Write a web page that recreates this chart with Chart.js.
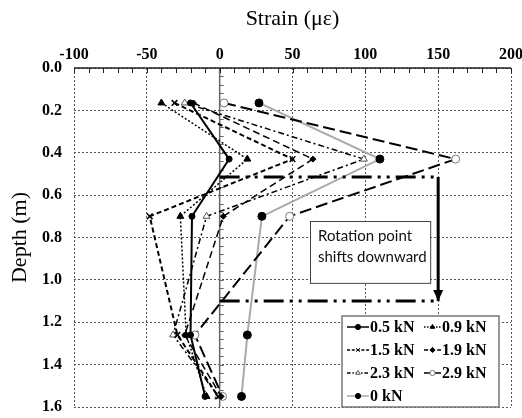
<!DOCTYPE html>
<html>
<head>
<meta charset="utf-8">
<script src="https://cdn.jsdelivr.net/npm/chart.js@4.4.1/dist/chart.umd.min.js"></script>
<style>
  html, body { margin: 0; padding: 0; background: #fff; }
  #wrap { width: 522px; height: 418px; }
</style>
</head>
<body>
<div id="wrap"><canvas id="c" width="522" height="418"></canvas></div>
<script>
// Strain (µε) vs depth (m)
const depth = [0.165, 0.43, 0.70, 1.26, 1.55];
const kn05 = [-20, 6.5, -19, -20, -10];
const kn09 = [-40, 19, -27, -23, -9];
const kn15 = [-31, 50, -48, -29, -1];
const kn19 = [-18, 64, 2.5, -24, 1];
const kn23 = [-24, 99, -9, -32, -1];
const kn29 = [3, 162, 48, -17, 2];
const kn00 = [27, 110, 29, 19, 15];
const seriesNames = ["0.5 kN", "0.9 kN", "1.5 kN", "1.9 kN", "2.3 kN", "2.9 kN", "0 kN"];

// rotation point marks (strain, depth)
const rotDepth = [0.515, 1.10];
const rotStrain = [0, 151];
const arrowStrain = 150;
const noteLines = ["Rotation point", "shifts downward"];

const SERIF = "Liberation Serif";
Chart.defaults.font.family = SERIF;
const pts = (xs) => xs.map((x, i) => ({ x, y: depth[i] }));

function series(label, xs, o) {
  return Object.assign({
    label, data: pts(xs), borderColor: "#000", backgroundColor: "#000",
    borderWidth: 1.5, pointRadius: 3.5, pointBorderWidth: 1, tension: 0,
    pointBorderColor: "#000",
  }, o);
}

const dsets = [
  series(seriesNames[0], kn05, { borderWidth: 2, pointStyle: "circle", pointRadius: 3 }),
  series(seriesNames[1], kn09, { borderDash: [2, 2], pointStyle: "triangle", pointRadius: 4 }),
  series(seriesNames[2], kn15, { borderWidth: 2, borderDash: [5, 3], pointStyle: "crossRot", pointRadius: 4, pointBorderWidth: 1.5 }),
  series(seriesNames[3], kn19, { borderDash: [7, 4], pointStyle: "rectRot", pointRadius: 3 }),
  series(seriesNames[4], kn23, { borderDash: [6, 3, 2, 3], pointStyle: "triangle", pointRadius: 4,
    backgroundColor: "#fff", pointBorderColor: "#555" }),
  series(seriesNames[5], kn29, { borderWidth: 2, borderDash: [12, 5], pointStyle: "circle", pointRadius: 4,
    backgroundColor: "#fff", pointBorderColor: "#777" }),
  series(seriesNames[6], kn00, { borderWidth: 2, borderColor: "#aaa", pointStyle: "circle", pointRadius: 4 }),
];

const rotSets = rotDepth.map((d) => ({
  label: "rot", data: rotStrain.map((x) => ({ x, y: d })), borderColor: "#000",
  borderWidth: 3, borderDash: [20, 6, 3, 6, 3, 6], pointRadius: 0, order: -1,
}));
const arrowSet = {
  label: "arrow", data: rotDepth.map((d) => ({ x: arrowStrain, y: d })), borderColor: "#000",
  borderWidth: 3, pointRadius: 0, order: -1,
};

// axis at strain 0, top axis, note box, arrowhead, legend
const extras = {
  id: "extras",
  beforeDatasetsDraw(chart) {
    const { ctx, chartArea: a, scales: { x, y } } = chart;
    const x0 = x.getPixelForValue(0);
    ctx.save();
    ctx.strokeStyle = "#666";
    ctx.lineWidth = 1.5;
    ctx.beginPath(); ctx.moveTo(x0, a.top); ctx.lineTo(x0, a.bottom); ctx.stroke();
    ctx.lineWidth = 1;
    for (let v = 0.04; v < 1.6; v += 0.04) {
      const py = Math.round(y.getPixelForValue(v)) + 0.5;
      ctx.beginPath(); ctx.moveTo(x0, py); ctx.lineTo(x0 + 4, py); ctx.stroke();
    }
    ctx.restore();
  },
  afterDatasetsDraw(chart) {
    const { ctx, chartArea: a, scales: { x, y } } = chart;
    ctx.save();
    // top axis
    ctx.strokeStyle = "#222"; ctx.lineWidth = 1.5;
    ctx.beginPath(); ctx.moveTo(a.left, a.top); ctx.lineTo(a.right, a.top); ctx.stroke();
    ctx.lineWidth = 1;
    for (let v = -100; v <= 200; v += 10) {
      const px = Math.round(x.getPixelForValue(v)) + 0.5;
      ctx.beginPath(); ctx.moveTo(px, a.top); ctx.lineTo(px, a.top + 5); ctx.stroke();
    }
    // arrowhead
    const ax = x.getPixelForValue(arrowStrain), ay = y.getPixelForValue(rotDepth[1]);
    ctx.fillStyle = "#000";
    ctx.beginPath(); ctx.moveTo(ax - 5, ay - 11); ctx.lineTo(ax + 5, ay - 11); ctx.lineTo(ax, ay); ctx.closePath(); ctx.fill();
    // note box
    const bx1 = x.getPixelForValue(62), bx2 = x.getPixelForValue(144.5);
    const by1 = y.getPixelForValue(0.72), by2 = y.getPixelForValue(1.012);
    ctx.fillStyle = "#fff"; ctx.fillRect(bx1, by1, bx2 - bx1, by2 - by1);
    ctx.strokeStyle = "#444"; ctx.lineWidth = 1;
    ctx.strokeRect(Math.round(bx1) + 0.5, Math.round(by1) + 0.5, bx2 - bx1, by2 - by1);
    ctx.fillStyle = "#111"; ctx.font = "15px Lato, 'Open Sans', sans-serif";
    ctx.textBaseline = "middle"; ctx.textAlign = "left";
    noteLines.forEach((t, i) => ctx.fillText(t, bx1 + 8, by1 + 16 + i * 21));
    // legend
    const L = { x1: 342, y1: 316, x2: 499, y2: 407 };
    ctx.fillStyle = "#fff"; ctx.fillRect(L.x1, L.y1, L.x2 - L.x1, L.y2 - L.y1);
    ctx.strokeStyle = "#777"; ctx.lineWidth = 1.5;
    ctx.strokeRect(L.x1, L.y1, L.x2 - L.x1, L.y2 - L.y1);
    const rows = [327, 350, 373, 396];
    const cols = [{ s: 347, e: 369, t: 370 }, { s: 424, e: 441, t: 442 }];
    ctx.font = "bold 16px 'Liberation Serif', serif";
    dsets.forEach((d, i) => {
      const c = cols[i % 2], ry = rows[Math.floor(i / 2)];
      ctx.strokeStyle = d.borderColor; ctx.lineWidth = Math.min(d.borderWidth, 1.5);
      ctx.setLineDash((d.borderDash || []).map((v) => Math.max(1.5, v * 0.6)));
      ctx.beginPath(); ctx.moveTo(c.s, ry); ctx.lineTo(c.e, ry); ctx.stroke();
      ctx.setLineDash([]);
      ctx.fillStyle = d.backgroundColor; ctx.strokeStyle = d.pointBorderColor; ctx.lineWidth = 1;
      Chart.helpers.drawPoint(ctx, { pointStyle: d.pointStyle, radius: 2.6, rotation: 0, borderWidth: 1 }, (c.s + c.e) / 2, ry);
      ctx.fillStyle = "#000";
      ctx.fillText(d.label, c.t, ry + 1);
    });
    ctx.restore();
  },
};

const tickFont = { family: SERIF, size: 16, weight: "bold" };

new Chart(document.getElementById("c"), {
  type: "line",
  data: { datasets: [...rotSets, arrowSet, ...dsets] },
  plugins: [extras],
  options: {
    responsive: false, animation: false,
    layout: { padding: { left: 0, top: 0, right: 11, bottom: 11 } },
    plugins: { legend: { display: false }, tooltip: { enabled: false } },
    scales: {
      x: {
        type: "linear", position: "top", min: -100, max: 200,
        afterFit: (s) => { s.height = 68; s.paddingLeft = 0; s.paddingRight = 0; },
        ticks: { stepSize: 50, padding: 4, color: "#000", font: tickFont },
        grid: { color: "#555", lineWidth: 1, drawTicks: false },
        border: { display: false, dash: [2, 2] },
        title: { display: true, text: "Strain (με)", color: "#000", padding: { top: 6, bottom: 2 },
          font: { family: SERIF, size: 22 } },
      },
      y: {
        type: "linear", reverse: true, min: 0, max: 1.6,
        afterFit: (s) => { s.width = 74; s.paddingTop = 0; s.paddingBottom = 0; },
        ticks: { stepSize: 0.2, padding: 12, color: "#000", callback: (v) => v.toFixed(1), font: tickFont },
        grid: { color: "#555", lineWidth: 1, drawTicks: false },
        border: { display: false, dash: [2, 2] },
        title: { display: true, text: "Depth (m)", color: "#000", padding: { top: 7, bottom: 0 },
          font: { family: SERIF, size: 22 } },
      },
    },
  },
});
</script>
</body>
</html>
